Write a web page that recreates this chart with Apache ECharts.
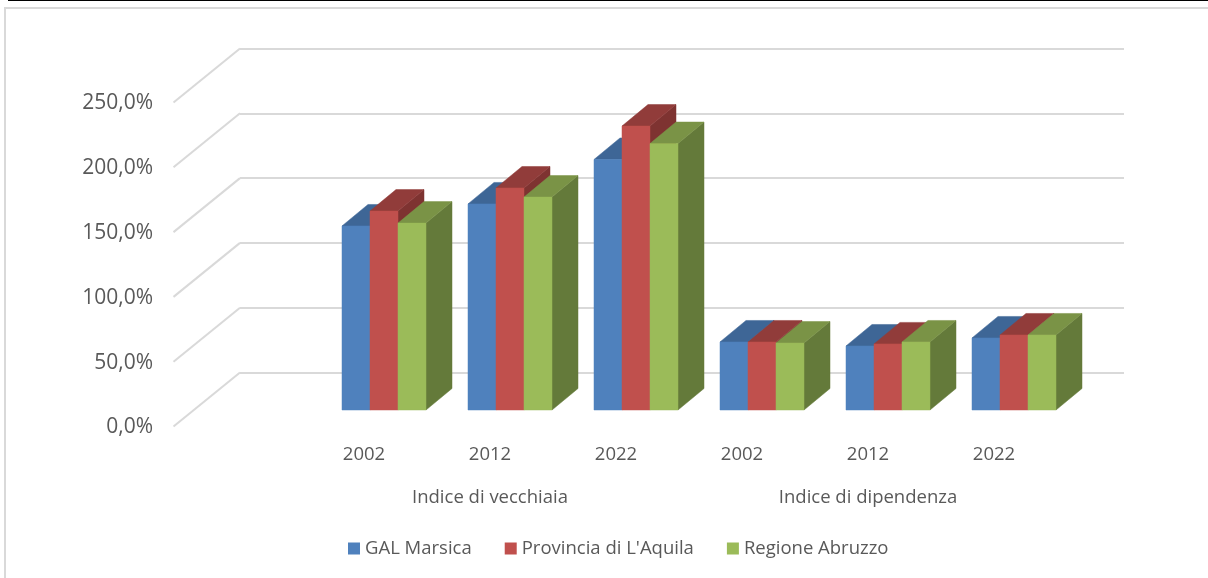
<!DOCTYPE html>
<html><head><meta charset="utf-8">
<style>html,body{margin:0;padding:0;background:#fff}#c{width:1208px;height:578px}</style>
<script src="https://cdn.jsdelivr.net/npm/echarts@6/dist/echarts.min.js"></script>
</head><body><div id="c"></div>
<script>
const years = ['', '2002', '2012', '2022', '2002', '2012', '2022'];
const groups = ['', '', 'Indice di vecchiaia', '', '', 'Indice di dipendenza', ''];
const galMarsica = [null, 142, 159, 193.3, 52.5, 49.4, 55.6];
const provincia = [null, 153.5, 171.3, 219.1, 52.5, 51, 57.9];
const regione = [null, 144.2, 164.3, 205.6, 51.7, 52.5, 57.9];
const yTicks = [0, 50, 100, 150, 200, 250];
const seriesNames = ['GAL Marsica', "Provincia di L'Aquila", 'Regione Abruzzo'];
const seriesValues = [galMarsica, provincia, regione];
const fronts = ['#4f81bd', '#c0504d', '#9bbb59'];
const tops = ['#3e6696', '#913c3a', '#7a9346'];
const sides = ['#35577f', '#7e3331', '#647a3a'];

const font = '"Open Sans"';
const textColor = '#595959';
const gridColor = '#d9d9d9';
const depth = [26, -21.5];
const wall = [-66.5, 54];
const plotH = 324;
const barShare = 28 / 126;

function barRender(si) {
  return function (params, api) {
    const v = api.value(1);
    if (v == null || isNaN(v)) return;
    const base = api.coord([api.value(0), 0]);
    const top = api.coord([api.value(0), v]);
    const band = api.size([1, 0])[0];
    const w = band * barShare;
    const x0 = base[0] + (si - 1.5) * w;
    const x1 = x0 + w;
    const dx = depth[0], dy = depth[1];
    const poly = (pts, fill) => ({
      type: 'polygon', shape: { points: pts },
      style: { fill: fill, stroke: fill, lineWidth: 0.5 }
    });
    return { type: 'group', children: [
      poly([[x1, top[1]], [x1 + dx, top[1] + dy], [x1 + dx, base[1] + dy], [x1, base[1]]], sides[si]),
      poly([[x0, top[1]], [x0 + dx, top[1] + dy], [x1 + dx, top[1] + dy], [x1, top[1]]], tops[si]),
      poly([[x0, top[1]], [x1, top[1]], [x1, base[1]], [x0, base[1]]], fronts[si])
    ]};
  };
}

const barSeries = seriesNames.map((name, si) => ({
  name: name, type: 'custom', xAxisIndex: 3, yAxisIndex: 2, z: 5 + si,
  itemStyle: { color: fronts[si] },
  encode: { x: 0, y: 1 },
  data: seriesValues[si].map((v, i) => [i, v]),
  renderItem: barRender(si)
}));

const wallSeries = {
  type: 'custom', xAxisIndex: 1, yAxisIndex: 1, z: 1, silent: true,
  encode: { y: 1 }, data: yTicks.map(t => [0, t]),
  renderItem: function (params, api) {
    const p = api.coord([0, api.value(1)]);
    const x = p[0] - api.size([1, 0])[0] / 2;
    return { type: 'line',
      shape: { x1: x, y1: p[1], x2: x + wall[0], y2: p[1] + wall[1] },
      style: { stroke: gridColor, lineWidth: 2 } };
  }
};

const chart = echarts.init(document.getElementById('c'), null, { renderer: 'canvas' });
chart.setOption({
  animation: false,
  backgroundColor: '#fff',
  graphic: [
    { type: 'rect', shape: { x: 5, y: 8, width: 1300, height: 700 }, style: { fill: 'none', stroke: '#d9d9d9', lineWidth: 2 }, silent: true },
    { type: 'line', shape: { x1: 8, y1: 0.5, x2: 1208, y2: 0.5 }, style: { stroke: '#000', lineWidth: 1 }, silent: true }
  ],
  grid: [
    { left: 175, top: 103.5, width: 882, height: plotH },     // front plane (labels)
    { left: 240, top: 48.5, width: 884, height: plotH },      // back wall
    { left: 195, top: 86, width: 882, height: plotH }         // bar plane
  ],
  legend: {
    left: 343, top: 534, itemWidth: 12, itemHeight: 12, itemGap: 33, icon: 'rect',
    data: seriesNames, selectedMode: false,
    textStyle: { fontFamily: font, fontSize: 18.5, color: textColor }
  },
  xAxis: [
    { type: 'category', gridIndex: 0, data: years, axisLine: { show: false }, axisTick: { show: false },
      axisLabel: { interval: 0, margin: 18, fontFamily: font, fontSize: 18.5, color: textColor } },
    { type: 'category', gridIndex: 1, data: years, show: false },
    { type: 'category', gridIndex: 0, data: groups, position: 'bottom', offset: 43, axisLine: { show: false }, axisTick: { show: false },
      axisLabel: { interval: 0, margin: 18, fontFamily: font, fontSize: 18.5, color: textColor } },
    { type: 'category', gridIndex: 2, data: years, show: false }
  ],
  yAxis: [
    { type: 'value', gridIndex: 0, min: 0, max: 250, interval: 50, axisLine: { show: false }, axisTick: { show: false }, splitLine: { show: false },
      axisLabel: { margin: 22, padding: [2, 0, 0, 0], fontFamily: font, fontSize: 21, color: textColor,
        formatter: v => v.toFixed(1).replace('.', ',') + '%' } },
    { type: 'value', gridIndex: 1, min: 0, max: 250, interval: 50, axisLine: { show: false }, axisTick: { show: false }, axisLabel: { show: false },
      splitLine: { show: true, lineStyle: { color: gridColor, width: 2 } } },
    { type: 'value', gridIndex: 2, min: 0, max: 250, interval: 50, show: false }
  ],
  series: [wallSeries].concat(barSeries)
});
</script></body></html>
